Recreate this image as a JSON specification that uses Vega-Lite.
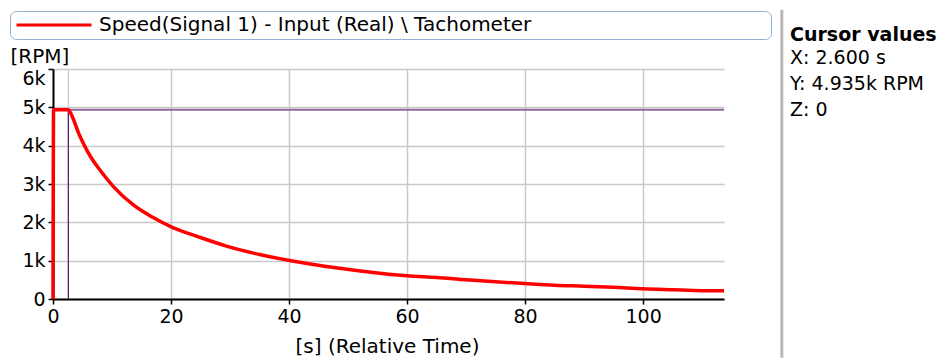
{
  "$schema": "https://vega.github.io/schema/vega-lite/v6.json",
  "width": 671,
  "height": 230,
  "autosize": {"type": "none"},
  "padding": {"left": 53, "top": 69, "right": 217, "bottom": 59},
  "background": "white",
  "config": {
    "font": "DejaVu Sans",
    "view": {"stroke": null},
    "axis": {
      "labelFont": "DejaVu Sans",
      "titleFont": "DejaVu Sans",
      "labelFontSize": 19,
      "titleFontSize": 20,
      "titleFontWeight": "normal",
      "labelColor": "black",
      "titleColor": "black",
      "domainColor": "black",
      "domainWidth": 2,
      "tickColor": "black",
      "tickWidth": 1.5,
      "tickSize": 5,
      "gridColor": "#c8c8c8",
      "gridWidth": 1.5,
      "labelOverlap": false
    }
  },
  "title": {
    "text": "Cursor values",
    "subtitle": ["X: 2.600 s", "Y: 4.935k RPM", "Z: 0"],
    "anchor": "start",
    "orient": "top",
    "frame": "group",
    "align": "left",
    "dx": 737,
    "offset": -112,
    "font": "DejaVu Sans",
    "fontSize": 19,
    "fontWeight": "bold",
    "color": "black",
    "subtitleFont": "DejaVu Sans",
    "subtitleFontSize": 19,
    "subtitleColor": "black",
    "subtitleLineHeight": 26,
    "subtitlePadding": 4
  },
  "datasets": {
    "speed": [
      {"t": 0, "rpm": 0, "series": "Speed(Signal 1) - Input (Real) \\ Tachometer"},
      {"t": 0.1, "rpm": 4935, "series": "Speed(Signal 1) - Input (Real) \\ Tachometer"},
      {"t": 2.6, "rpm": 4935, "series": "Speed(Signal 1) - Input (Real) \\ Tachometer"},
      {"t": 2.83, "rpm": 4890, "series": "Speed(Signal 1) - Input (Real) \\ Tachometer"},
      {"t": 4.53, "rpm": 4260, "series": "Speed(Signal 1) - Input (Real) \\ Tachometer"},
      {"t": 6.22, "rpm": 3750, "series": "Speed(Signal 1) - Input (Real) \\ Tachometer"},
      {"t": 7.92, "rpm": 3370, "series": "Speed(Signal 1) - Input (Real) \\ Tachometer"},
      {"t": 10.2, "rpm": 2940, "series": "Speed(Signal 1) - Input (Real) \\ Tachometer"},
      {"t": 13.56, "rpm": 2460, "series": "Speed(Signal 1) - Input (Real) \\ Tachometer"},
      {"t": 16.9, "rpm": 2130, "series": "Speed(Signal 1) - Input (Real) \\ Tachometer"},
      {"t": 20.3, "rpm": 1860, "series": "Speed(Signal 1) - Input (Real) \\ Tachometer"},
      {"t": 24.3, "rpm": 1640, "series": "Speed(Signal 1) - Input (Real) \\ Tachometer"},
      {"t": 29.4, "rpm": 1380, "series": "Speed(Signal 1) - Input (Real) \\ Tachometer"},
      {"t": 35.0, "rpm": 1160, "series": "Speed(Signal 1) - Input (Real) \\ Tachometer"},
      {"t": 40.1, "rpm": 1005, "series": "Speed(Signal 1) - Input (Real) \\ Tachometer"},
      {"t": 46.3, "rpm": 850, "series": "Speed(Signal 1) - Input (Real) \\ Tachometer"},
      {"t": 51.4, "rpm": 746, "series": "Speed(Signal 1) - Input (Real) \\ Tachometer"},
      {"t": 55.0, "rpm": 680, "series": "Speed(Signal 1) - Input (Real) \\ Tachometer"},
      {"t": 60.0, "rpm": 605, "series": "Speed(Signal 1) - Input (Real) \\ Tachometer"},
      {"t": 65.0, "rpm": 560, "series": "Speed(Signal 1) - Input (Real) \\ Tachometer"},
      {"t": 70.0, "rpm": 500, "series": "Speed(Signal 1) - Input (Real) \\ Tachometer"},
      {"t": 75.0, "rpm": 448, "series": "Speed(Signal 1) - Input (Real) \\ Tachometer"},
      {"t": 80.0, "rpm": 402, "series": "Speed(Signal 1) - Input (Real) \\ Tachometer"},
      {"t": 85.0, "rpm": 360, "series": "Speed(Signal 1) - Input (Real) \\ Tachometer"},
      {"t": 90.0, "rpm": 335, "series": "Speed(Signal 1) - Input (Real) \\ Tachometer"},
      {"t": 95.0, "rpm": 305, "series": "Speed(Signal 1) - Input (Real) \\ Tachometer"},
      {"t": 100.0, "rpm": 265, "series": "Speed(Signal 1) - Input (Real) \\ Tachometer"},
      {"t": 105.0, "rpm": 240, "series": "Speed(Signal 1) - Input (Real) \\ Tachometer"},
      {"t": 110.0, "rpm": 217, "series": "Speed(Signal 1) - Input (Real) \\ Tachometer"},
      {"t": 113.7, "rpm": 212, "series": "Speed(Signal 1) - Input (Real) \\ Tachometer"}
    ],
    "cursor": [
      {"x": 2.6, "y": 4935, "z": 0}
    ]
  },
  "layer": [
    {
      "data": {"name": "cursor"},
      "mark": {"type": "rule", "color": "#8f6a9a", "strokeWidth": 2},
      "encoding": {
        "y": {
          "field": "y",
          "type": "quantitative",
          "scale": {"domain": [0, 6000], "nice": false},
          "axis": {
            "values": [0, 1000, 2000, 3000, 4000, 5000, 6000],
            "tickCount": 12,
            "labelExpr": "datum.value == 0 ? '0' : (datum.value / 1000) + 'k'",
            "labelOverlap": false,
            "labelBaseline": {"condition": {"test": "datum.value == 6000", "value": "top"}, "value": "middle"},
            "title": "[RPM]",
            "titleAngle": 0,
            "titleX": -43,
            "titleY": -13,
            "titleAlign": "left",
            "titleBaseline": "middle",
            "labelPadding": 3,
            "labelFlush": false
          }
        }
      }
    },
    {
      "data": {"name": "cursor"},
      "mark": {"type": "rule", "color": "#d2c2da", "strokeWidth": 1.2},
      "encoding": {
        "x": {
          "field": "x",
          "type": "quantitative",
          "scale": {"domain": [0, 113.7], "nice": false, "zero": false},
          "axis": {
            "values": [0, 20, 40, 60, 80, 100],
            "tickCount": 12,
            "labelOverlap": false,
            "title": "[s] (Relative Time)",
            "titleX": 334,
            "titleY": 47,
            "titleAlign": "center",
            "titleBaseline": "middle",
            "labelPadding": 3,
            "labelFlush": false
          }
        }
      }
    },
    {
      "data": {"name": "cursor"},
      "mark": {"type": "rule", "color": "#5c1468", "strokeWidth": 1.2},
      "encoding": {
        "x": {"field": "x", "type": "quantitative"},
        "y": {"field": "y", "type": "quantitative"},
        "y2": {"datum": 0}
      }
    },
    {
      "data": {"name": "speed"},
      "mark": {"type": "line", "strokeWidth": 3.5, "interpolate": "monotone"},
      "encoding": {
        "x": {"field": "t", "type": "quantitative"},
        "y": {"field": "rpm", "type": "quantitative"},
        "color": {
          "field": "series",
          "type": "nominal",
          "scale": {"range": ["#ff0000"]},
          "legend": {
            "title": null,
            "orient": "none",
            "legendX": -43,
            "legendY": -58,
            "symbolType": "M-1,0H9",
            "symbolSize": 225,
            "symbolStrokeWidth": 3,
            "labelFont": "DejaVu Sans",
            "labelFontSize": 20,
            "labelColor": "black",
            "labelOffset": 65,
            "labelLimit": 2000,
            "labelExpr": "datum.label + '\u00a0\u00a0\u00a0\u00a0\u00a0\u00a0\u00a0\u00a0\u00a0\u00a0\u00a0\u00a0\u00a0\u00a0\u00a0\u00a0\u00a0\u00a0\u00a0\u00a0\u00a0\u00a0\u00a0\u00a0\u00a0\u00a0\u00a0\u00a0\u00a0\u00a0\u00a0\u00a0\u00a0\u00a0\u00a0\u00a0\u00a0\u200b'",
            "strokeColor": "#8fb0d0",
            "cornerRadius": 6,
            "fillColor": "white",
            "padding": 4
          }
        }
      }
    },
    {
      "data": {"name": "cursor"},
      "mark": {"type": "rule", "color": "#b8b8b8", "strokeWidth": 3, "clip": false},
      "encoding": {
        "x": {"datum": 123.5, "type": "quantitative"},
        "y": {"datum": 7547, "type": "quantitative"},
        "y2": {"datum": -1531}
      }
    }
  ]
}
